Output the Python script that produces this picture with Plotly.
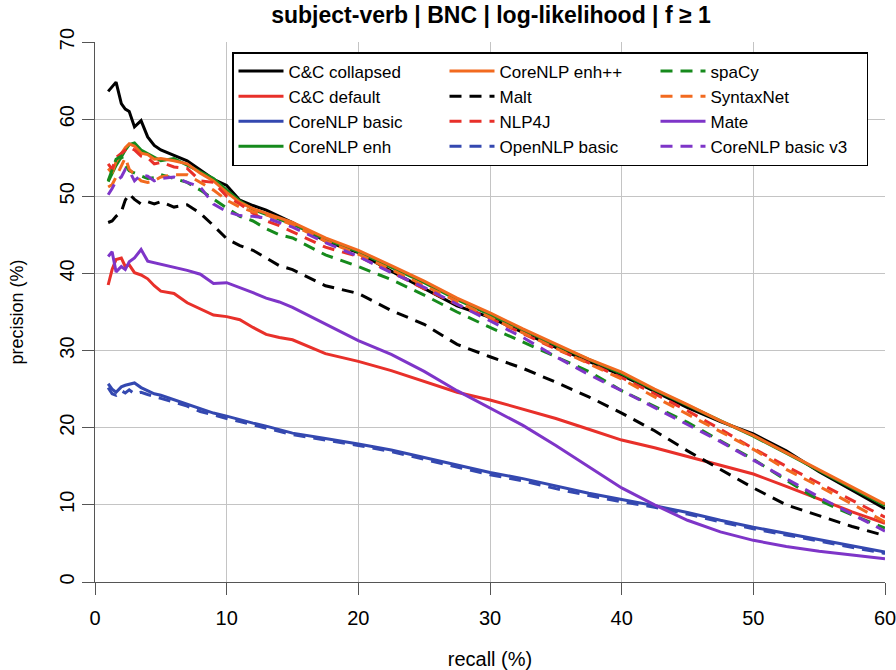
import plotly.graph_objects as go

# recall grid (%)
recall = [1, 1.3, 1.6, 2, 2.3, 2.6, 3, 3.5, 4, 4.5, 5, 6, 7, 8, 9, 10, 11, 12, 13, 14, 15,
          17.5, 20, 22.5, 25, 27.5, 30, 32.5, 35, 37.5, 40, 42.5, 45, 47.5, 50, 52.5, 55, 57.5, 60]

cc_collapsed = [63.6, 64.2, 64.8, 62.0, 61.3, 61.0, 59.0, 59.8, 57.7, 56.6, 56.0, 55.3, 54.6, 53.4, 52.2, 51.4, 49.5, 48.8, 48.2, 47.4, 46.6,
                44.2, 42.7, 40.3, 38.0, 35.8, 34.3, 32.3, 30.4, 28.6, 26.8, 24.7, 22.6, 20.8, 19.2, 17.0, 14.3, 11.9, 9.5]
cc_default = [38.5, 40.5, 41.8, 42.0, 40.9, 41.1, 40.1, 39.8, 39.3, 38.4, 37.7, 37.4, 36.2, 35.4, 34.6, 34.4, 34.0, 33.0, 32.1, 31.7, 31.4,
              29.6, 28.6, 27.4, 26.0, 24.6, 23.6, 22.4, 21.2, 19.8, 18.4, 17.4, 16.3, 15.1, 14.0, 12.4, 10.7, 9.1, 7.6]
corenlp_basic = [25.7, 25.0, 24.6, 25.3, 25.5, 25.6, 25.8, 25.2, 24.8, 24.4, 24.2, 23.6, 23.1, 22.4, 21.9, 21.5, 21.0, 20.6, 20.2, 19.8, 19.3,
                 18.6, 17.9, 17.1, 16.1, 15.1, 14.2, 13.4, 12.4, 11.5, 10.7, 9.9, 9.0, 8.0, 7.1, 6.3, 5.5, 4.7, 3.9]
corenlp_enh = [51.9, 53.0, 54.0, 55.1, 56.0, 56.7, 56.9, 56.0, 55.5, 55.0, 54.6, 54.9, 54.0, 53.2, 52.3, 50.8, 49.4, 48.3, 47.6, 47.0, 46.4,
               44.4, 42.8, 40.8, 38.8, 36.6, 34.7, 32.7, 30.7, 28.8, 27.0, 24.9, 22.9, 20.8, 18.9, 16.7, 14.4, 12.2, 9.9]
corenlp_enhpp = [53.6, 53.0, 54.5, 55.5, 56.3, 56.8, 56.5, 55.6, 55.4, 54.8, 54.9, 54.6, 54.2, 53.0, 52.0, 50.5, 49.2, 48.4, 47.8, 47.2, 46.6,
                 44.6, 43.0, 41.0, 39.0, 36.8, 34.9, 32.8, 30.8, 28.9, 27.2, 25.0, 23.0, 20.9, 19.0, 16.8, 14.6, 12.4, 10.1]
malt = [46.6, 46.8, 47.4, 48.0, 49.5, 50.3, 49.6, 49.0, 49.3, 49.0, 49.3, 48.6, 48.9, 47.8, 46.2, 44.5, 43.6, 43.0, 42.0, 41.0, 40.5,
        38.4, 37.4, 35.2, 33.4, 30.8, 29.2, 27.7, 25.9, 24.0, 21.9, 19.6, 17.0, 14.6, 12.2, 10.0, 8.6, 7.2, 6.0]
nlp4j = [54.2, 53.5, 55.0, 55.6, 56.0, 56.4, 56.0, 55.2, 55.0, 54.2, 54.4, 53.8, 53.6, 52.0, 51.8, 50.0, 49.0, 47.8, 46.8, 46.2, 45.4,
         43.4, 42.2, 40.2, 38.0, 36.0, 34.2, 32.2, 30.2, 28.4, 26.5, 24.4, 22.2, 19.8, 17.3, 15.0, 12.8, 10.6, 8.4]
opennlp_basic = [25.2, 24.4, 24.2, 24.8, 24.5, 24.9, 24.4, 24.6, 24.3, 24.0, 23.8, 23.3, 22.8, 22.1, 21.6, 21.2, 20.8, 20.4, 19.9, 19.5, 19.1,
                 18.4, 17.7, 16.9, 15.9, 14.9, 13.9, 13.1, 12.1, 11.2, 10.4, 9.7, 8.8, 7.8, 6.9, 6.1, 5.3, 4.5, 3.7]
spacy = [52.0, 53.5, 54.8, 55.2, 54.0, 53.3, 53.0, 52.6, 52.3, 52.4, 52.8, 52.3, 51.8, 50.8, 49.6, 48.5, 47.4, 46.8, 45.8, 45.0, 44.6,
         42.4, 40.9, 39.2, 37.2, 35.0, 33.0, 31.1, 29.2, 27.3, 24.8, 22.8, 20.7, 18.3, 15.9, 13.2, 10.6, 8.7, 7.0]
syntaxnet = [51.2, 51.5, 52.5, 54.0, 55.0, 53.5, 52.8, 52.0, 51.8, 52.0, 52.5, 52.8, 52.8, 51.8, 50.8, 49.5, 48.6, 48.0, 47.6, 47.0, 46.3,
             44.2, 42.5, 40.5, 38.4, 36.3, 34.3, 32.3, 30.3, 28.3, 26.3, 24.0, 21.8, 19.5, 17.2, 14.6, 12.4, 10.1, 7.8]
mate = [42.2, 42.8, 40.2, 40.9, 40.5, 41.5, 42.0, 43.1, 41.6, 41.4, 41.2, 40.8, 40.4, 39.9, 38.7, 38.8, 38.2, 37.5, 36.8, 36.3, 35.6,
        33.5, 31.3, 29.5, 27.3, 24.8, 22.6, 20.3, 17.7, 15.0, 12.2, 10.0, 8.0, 6.5, 5.4, 4.6, 4.0, 3.5, 3.0]
corenlp_basic_v3 = [50.2, 51.0, 52.0, 52.5, 53.5, 53.3, 52.0, 52.8, 52.6, 52.0, 52.3, 52.5, 51.8, 51.2, 49.0, 48.0, 47.5, 47.4, 47.2, 46.6, 46.0,
                    44.0, 42.2, 40.1, 38.2, 36.0, 33.9, 31.7, 29.2, 26.9, 24.8, 22.6, 20.5, 18.2, 15.8, 13.4, 11.0, 8.8, 6.6]

x_ticks = [0, 10, 20, 30, 40, 50, 60]
y_ticks = [0, 10, 20, 30, 40, 50, 60, 70]

BLACK = "#000000"
RED = "#E8302A"
BLUE = "#3448B0"
GREEN = "#168A1C"
ORANGE = "#F26A1F"
PURPLE = "#7E35C8"
DASH = "12px,8px"

# (name, values, colour, dash, legend rank) in drawing order
series = [
    ("C&C collapsed", cc_collapsed, BLACK, "solid", 1),
    ("C&C default", cc_default, RED, "solid", 4),
    ("CoreNLP basic", corenlp_basic, BLUE, "solid", 7),
    ("CoreNLP enh", corenlp_enh, GREEN, "solid", 10),
    ("CoreNLP enh++", corenlp_enhpp, ORANGE, "solid", 2),
    ("Malt", malt, BLACK, DASH, 5),
    ("NLP4J", nlp4j, RED, DASH, 8),
    ("OpenNLP basic", opennlp_basic, BLUE, DASH, 11),
    ("spaCy", spacy, GREEN, DASH, 3),
    ("SyntaxNet", syntaxnet, ORANGE, DASH, 6),
    ("Mate", mate, PURPLE, "solid", 9),
    ("CoreNLP basic v3", corenlp_basic_v3, PURPLE, DASH, 12),
]

fig = go.Figure()
for name, vals, col, dash, rank in series:
    fig.add_trace(go.Scatter(
        x=recall, y=vals, mode="lines", name=name, legendrank=rank,
        line=dict(color=col, width=3, dash=dash),
    ))

FONT = "Liberation Sans, Arial, Helvetica, sans-serif"
fig.update_layout(
    width=896, height=670,
    margin=dict(l=95, r=11, t=42, b=88, autoexpand=False),
    paper_bgcolor="white", plot_bgcolor="white",
    font=dict(family=FONT, size=20, color="black"),
    title=dict(text="<b>subject-verb | BNC | log-likelihood | f ≥ 1</b>",
               x=(491 / 896), xanchor="center", y=1 - 15 / 670, yanchor="middle",
               font=dict(size=23, family=FONT)),
    showlegend=True,
    legend=dict(
        orientation="h", x=(232 - 95) / 790, xanchor="left",
        y=(582 - 52) / 540, yanchor="top",
        bgcolor="white", bordercolor="black", borderwidth=1.5,
        font=dict(size=17, family=FONT),
        itemwidth=45,
        entrywidth=151, entrywidthmode="pixels",
        traceorder="normal",
    ),
)
fig.update_xaxes(
    range=[0, 60], tickvals=x_ticks, showgrid=True, gridcolor="#c4c4c4", gridwidth=1.2,
    zeroline=False, showline=True, linecolor="#555555", linewidth=1.2,
    ticks="outside", ticklen=12, tickcolor="#555555", tickwidth=1.2,
    ticklabelstandoff=6, ticklabeloverflow="allow", tickfont=dict(size=20), automargin=False,
    title=dict(text="recall (%)", font=dict(size=20), standoff=30),
)
fig.update_yaxes(
    range=[0, 70], tickvals=y_ticks, showgrid=True, gridcolor="#c4c4c4", gridwidth=1.2,
    zeroline=False, showline=True, linecolor="#555555", linewidth=1.2,
    ticks="outside", ticklen=12, tickcolor="#555555", tickwidth=1.2,
    tickangle=-90, ticklabeloverflow="allow", tickfont=dict(size=20), automargin=False,
    title=dict(text="precision (%)", font=dict(size=18), standoff=27),
)

fig.write_html("out.html", config={"displayModeBar": False},
               post_script="document.body.style.margin='0px';")
